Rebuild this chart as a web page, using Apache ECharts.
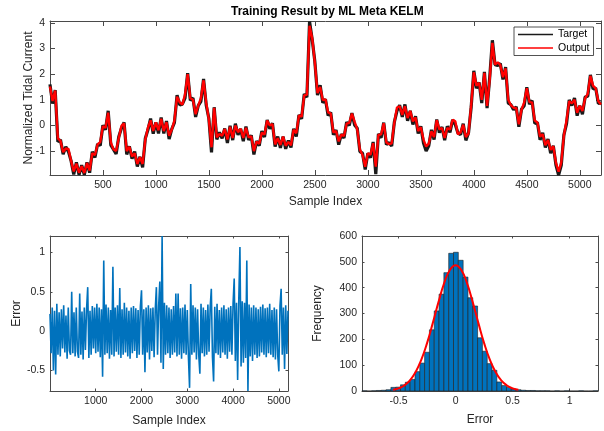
<!DOCTYPE html>
<html>
<head>
<meta charset="utf-8">
<script src="https://cdn.jsdelivr.net/npm/echarts@6/dist/echarts.min.js"></script>
<style>
  html, body { margin: 0; padding: 0; background: #fff; }
  #chart { width: 604px; height: 431px; }
</style>
</head>
<body>
<div id="chart"></div>
<script>
// Sampled every 25 samples over 1..5200
const sampleStep = 25;

const targetValues = [
  1.60, 0.85, 1.38, -0.63, -0.56, -1.12, -0.83, -1.02, -1.38, -1.91,
  -1.44, -1.92, -1.55, -1.92, -1.44, -1.84, -1.02, -1.25, -0.72, -0.78,
  0.01, -0.17, 0.57, -0.77, -0.93, -1.11, -0.44, -0.11, 0.12, -1.13,
  -0.81, -1.29, -1.02, -1.60, -1.22, -1.63, -0.51, -0.17, 0.27, -0.32,
  0.12, -0.31, 0.31, -0.31, 0.17, -0.53, -0.14, 0.11, 1.18, 0.80,
  0.83, 1.07, 2.04, 0.98, 1.07, 0.33, 0.77, 0.94, 1.81, 0.79,
  0.27, -1.05, 0.71, -0.54, -0.27, -0.50, -0.12, -0.68, -0.01, -0.57,
  0.07, -0.37, -0.13, -0.61, -0.04, -0.56, -0.38, -1.13, -0.61, -0.79,
  -0.22, -0.45, 0.21, -0.13, 0.09, -0.82, -0.43, -0.87, -0.43, -0.91,
  -0.59, -0.86, -0.13, -0.43, 0.41, 0.26, 1.23, 1.10, 4.05, 3.35,
  2.49, 1.18, 1.57, 0.88, 1.02, 0.39, 0.51, -0.36, -0.18, -0.75,
  -0.34, -0.49, 0.13, 0.00, 0.48, 0.02, -0.11, -1.02, -1.08, -1.72,
  -1.08, -1.26, -0.64, -1.90, -0.33, -0.48, 0.11, -0.74, -0.67, -0.80,
  0.13, 0.57, 0.79, 0.33, 0.82, 0.18, 0.57, 0.04, 0.36, -0.31,
  -0.03, -0.68, -1.00, -0.79, -0.17, -0.55, 0.23, -0.28, -0.06, -0.57,
  -0.03, -0.27, 0.22, 0.04, -0.29, -0.36, 0.07, -0.58, -0.29, 0.71,
  2.13, 1.45, 1.68, 0.87, 2.09, 0.68, 1.87, 3.32, 2.37, 2.34,
  2.41, 1.79, 2.27, 0.87, 0.81, 0.61, 0.73, -0.05, 0.63, 0.77,
  1.49, 0.83, 0.97, 0.08, 0.12, -0.56, -0.29, -0.86, -0.53, -1.08,
  -0.79, -1.54, -1.93, -1.55, -0.37, 0.07, 0.99, 0.78, 1.07, 0.38,
  0.77, 0.44, 1.11, 1.14, 1.97, 1.42, 1.46, 0.86, 0.88
];

const outputValues = [
  1.52, 0.95, 1.36, -0.50, -0.60, -1.04, -0.90, -0.91, -1.38, -1.79,
  -1.49, -1.84, -1.59, -1.85, -1.46, -1.76, -1.08, -1.15, -0.74, -0.65,
  -0.03, -0.09, 0.50, -0.66, -0.93, -0.99, -0.49, -0.02, 0.08, -1.00,
  -0.83, -1.21, -1.08, -1.50, -1.24, -1.50, -0.55, -0.09, 0.20, -0.21,
  0.12, -0.19, 0.26, -0.22, 0.13, -0.40, -0.16, 0.19, 1.12, 0.90,
  0.81, 1.20, 2.00, 1.06, 1.00, 0.44, 0.77, 1.06, 1.76, 0.88,
  0.23, -0.85, 0.69, -0.46, -0.33, -0.40, -0.14, -0.55, -0.05, -0.49,
  0.00, -0.26, -0.13, -0.49, -0.09, -0.47, -0.42, -1.00, -0.63, -0.71,
  -0.28, -0.35, 0.19, 0.00, 0.05, -0.74, -0.50, -0.76, -0.43, -0.79,
  -0.64, -0.77, -0.17, -0.30, 0.39, 0.34, 1.17, 1.20, 3.88, 3.40,
  2.45, 1.26, 1.50, 0.99, 1.02, 0.51, 0.46, -0.27, -0.22, -0.62,
  -0.36, -0.41, 0.07, 0.10, 0.46, 0.15, -0.15, -0.94, -1.15, -1.61,
  -1.08, -1.14, -0.69, -1.60, -0.37, -0.35, 0.09, -0.66, -0.73, -0.70,
  0.11, 0.70, 0.75, 0.41, 0.75, 0.29, 0.57, 0.16, 0.31, -0.22,
  -0.07, -0.55, -0.82, -0.71, -0.23, -0.45, 0.21, -0.15, -0.10, -0.49,
  -0.10, -0.16, 0.22, 0.16, -0.34, -0.27, 0.03, -0.45, -0.31, 0.79,
  2.07, 1.55, 1.66, 1.00, 2.05, 0.76, 1.80, 3.22, 2.37, 2.46,
  2.36, 1.88, 2.23, 1.00, 0.79, 0.69, 0.67, 0.05, 0.61, 0.90,
  1.45, 0.91, 0.90, 0.19, 0.12, -0.44, -0.34, -0.77, -0.57, -0.95,
  -0.81, -1.46, -1.80, -1.45, -0.39, 0.20, 0.95, 0.86, 1.00, 0.49,
  0.77, 0.56, 1.06, 1.23, 1.93, 1.55, 1.44, 0.94, 0.82
];

const errorValues = [
  0.22, -0.28, 0.30, -0.50, 0.26, -0.55, 0.35, -0.30, 0.24, -0.32,
  0.28, -0.22, 0.33, -0.27, 0.20, -0.35, 0.30, -0.25, -0.30, 0.50,
  -0.28, 0.24, -0.32, 0.30, -0.26, -0.34, 0.48, -0.30, 0.25, -0.36,
  0.30, -0.24, 0.28, 0.56, -0.34, 0.26, -0.30, 0.32, -0.22, 0.30,
  -0.28, 0.35, -0.26, 0.30, -0.33, 0.28, -0.58, 0.90, -0.30, 0.34,
  -0.28, 0.30, -0.35, 0.27, -0.30, 0.82, -0.32, 0.30, -0.26, 0.33,
  -0.30, 0.55, -0.34, 0.28, -0.30, 0.36, -0.27, 0.30, -0.32, 0.26,
  -0.35, 0.30, -0.28, 0.32, -0.25, 0.29, -0.34, 0.27, -0.30, 0.31,
  0.52, -0.30, 0.28, -0.52, 0.30, -0.27, 0.33, -0.36, 0.29, -0.25,
  0.30, -0.33, 0.27, 0.56, -0.30, 0.32, 0.63, -0.40, 1.21, -0.48,
  0.36, -0.30, 0.33, -0.28, 0.30, -0.34, 0.28, -0.30, 0.32, -0.27,
  0.48, -0.32, 0.48, -0.30, 0.29, -0.35, 0.30, -0.28, 0.34, -0.30,
  0.27, -0.33, -0.72, 0.60, -0.30, 0.33, -0.27, 0.30, -0.36, 0.28,
  -0.30, -0.54, 0.35, -0.28, 0.30, -0.32, 0.27, -0.30, 0.34, -0.26,
  0.30, 0.54, -0.33, -0.64, 0.31, -0.28, 0.35, -0.30, 0.27, -0.34,
  0.30, -0.27, 0.33, -0.30, 0.28, -0.35, 0.30, -0.26, 0.32, -0.30,
  0.35, 0.67, -0.38, 0.36, -0.62, 0.40, 1.07, -0.45, 0.38, -0.40,
  0.36, -0.34, 0.90, -0.76, 0.34, -0.32, 0.30, -0.38, 0.33, -0.30,
  0.30, -0.34, 0.28, -0.32, 0.31, -0.27, 0.34, -0.30, 0.29, -0.33,
  0.30, -0.28, 0.35, -0.30, 0.27, -0.33, 0.30, -0.36, 0.28, -0.30,
  -0.51, 0.32, 0.54, -0.30, 0.30, -0.48, 0.33, -0.29, 0.26
];

// Error histogram: 49 equal bins
const histBinStart = -0.82;
const histBinWidth = 0.0422;
const histCounts = [
  1, 0, 1, 2, 3, 5, 14, 15, 24, 34,
  45, 75, 108, 150, 237, 310, 375, 458, 533, 537,
  506, 441, 361, 329, 206, 154, 106, 80, 35, 21,
  14, 8, 5, 3, 2, 2, 1, 1, 1, 0,
  1, 0, 1, 0, 0, 1, 0, 0, 1
];

// Fitted normal density, scaled to counts
const fitX = [-0.55, -0.5, -0.45, -0.4, -0.35, -0.3, -0.25, -0.2, -0.15, -0.1, -0.05, 0,
              0.05, 0.1, 0.15, 0.2, 0.25, 0.3, 0.35, 0.4, 0.45, 0.5, 0.55];
const fitY = [4.6, 10.3, 21.4, 41.2, 73.5, 121.5, 185.5, 262.7, 344, 417.5, 468.6, 487,
              468.6, 417.5, 344, 262.7, 185.5, 121.5, 73.5, 41.2, 21.4, 10.3, 4.6];

// Tick values
const topXTicks = [500, 1000, 1500, 2000, 2500, 3000, 3500, 4000, 4500, 5000];
const topYTicks = [-1, 0, 1, 2, 3, 4];
const errXTicks = [1000, 2000, 3000, 4000, 5000];
const errYTicks = [-0.5, 0, 0.5, 1];
const histXTicks = [-0.5, 0, 0.5, 1];
const histYTicks = [0, 100, 200, 300, 400, 500, 600];

const sampleIndex = targetValues.map((_, i) => Math.max(1, i * sampleStep));
const pairs = (vals) => vals.map((v, i) => [sampleIndex[i], v]);
const histData = histCounts.map((c, i) => [
  histBinStart + i * histBinWidth,
  histBinStart + (i + 1) * histBinWidth,
  c
]);

const FONT = 'Liberation Sans, Arial, Helvetica, sans-serif';
const AX = '#262626';
const BOX = '#4a4a4a';
const nameStyle = { fontFamily: FONT, fontSize: 12, color: AX };

function boxAxis(gridIndex, position, min, max, ticks, tickLen, showLabels, extra) {
  const ax = {
    type: 'value',
    gridIndex: gridIndex,
    position: position,
    min: min,
    max: max,
    splitLine: { show: false },
    axisLine: { show: true, onZero: false, lineStyle: { color: BOX, width: 1 } },
    axisTick: { show: true, inside: true, length: tickLen, customValues: ticks,
                lineStyle: { color: BOX, width: 1 } },
    axisLabel: { show: showLabels, customValues: ticks, color: AX,
                 fontFamily: FONT, fontSize: 10.5, margin: 5,
                 formatter: (v) => String(v) },
    nameMoveOverlap: false
  };
  return Object.assign(ax, extra || {});
}

const histMax = histBinStart + histCounts.length * histBinWidth;

const chart = echarts.init(document.getElementById('chart'));
chart.setOption({
  animation: false,
  backgroundColor: '#ffffff',
  title: {
    text: 'Training Result by ML Meta KELM',
    left: 231, top: 6, padding: 0,
    textStyle: { fontFamily: FONT, fontSize: 12, fontWeight: 'bold', color: '#000' }
  },
  legend: {
    data: [
      { name: 'Target', itemStyle: { color: '#1a1a1a' } },
      { name: 'Output', itemStyle: { color: '#ff0000' } }
    ],
    orient: 'vertical',
    left: 514, top: 27,
    padding: [2, 4, 2, 4],
    itemGap: 2.5,
    itemWidth: 35, itemHeight: 1.5,
    icon: 'rect',
    backgroundColor: '#fff',
    borderColor: AX, borderWidth: 0.8, borderRadius: 0,
    textStyle: { fontFamily: FONT, fontSize: 10.5, color: '#000' }
  },
  grid: [
    { left: 50, top: 21, width: 551, height: 154 },
    { left: 50, top: 236, width: 238, height: 155 },
    { left: 362, top: 236, width: 236, height: 155 }
  ],
  xAxis: [
    boxAxis(0, 'bottom', 1, 5200, topXTicks, 5, true,
      { name: 'Sample Index', nameLocation: 'middle', nameGap: 21, nameTextStyle: nameStyle }),
    boxAxis(0, 'top', 1, 5200, topXTicks, 5, false),
    boxAxis(1, 'bottom', 1, 5200, errXTicks, 2.5, true,
      { name: 'Sample Index', nameLocation: 'middle', nameGap: 24, nameTextStyle: nameStyle }),
    boxAxis(1, 'top', 1, 5200, errXTicks, 2.5, false),
    boxAxis(2, 'bottom', histBinStart, histMax, histXTicks, 2.5, true,
      { name: 'Error', nameLocation: 'middle', nameGap: 22.5, nameTextStyle: nameStyle }),
    boxAxis(2, 'top', histBinStart, histMax, histXTicks, 2.5, false)
  ],
  yAxis: [
    boxAxis(0, 'left', -1.93, 4.07, topYTicks, 5, true,
      { name: 'Normalized Tidal Current', nameLocation: 'middle', nameGap: 15.5, nameTextStyle: nameStyle }),
    boxAxis(0, 'right', -1.93, 4.07, topYTicks, 5, false),
    boxAxis(1, 'left', -0.76, 1.21, errYTicks, 2.5, true,
      { name: 'Error', nameLocation: 'middle', nameGap: 27.5, nameTextStyle: nameStyle }),
    boxAxis(1, 'right', -0.76, 1.21, errYTicks, 2.5, false),
    boxAxis(2, 'left', 0, 600, histYTicks, 2.5, true,
      { name: 'Frequency', nameLocation: 'middle', nameGap: 38.5, nameTextStyle: nameStyle }),
    boxAxis(2, 'right', 0, 600, histYTicks, 2.5, false)
  ],
  series: [
    {
      name: 'Target', type: 'line', xAxisIndex: 0, yAxisIndex: 0,
      data: pairs(targetValues), symbol: 'none', showSymbol: false,
      lineStyle: { color: '#1a1a1a', width: 3.2 }, itemStyle: { color: '#1a1a1a' }, z: 3
    },
    {
      name: 'Output', type: 'line', xAxisIndex: 0, yAxisIndex: 0,
      data: pairs(outputValues), symbol: 'none', showSymbol: false,
      lineStyle: { color: '#ff0000', width: 2.4 }, itemStyle: { color: '#ff0000' }, z: 4
    },
    {
      name: 'Error', type: 'line', xAxisIndex: 2, yAxisIndex: 2,
      data: pairs(errorValues), symbol: 'none', showSymbol: false,
      lineStyle: { color: '#0072BD', width: 1.6 }, z: 3
    },
    {
      name: 'Histogram', type: 'custom', xAxisIndex: 4, yAxisIndex: 4,
      data: histData,
      encode: { x: [0, 1], y: 2 },
      renderItem: function (params, api) {
        const p0 = api.coord([api.value(0), 0]);
        const p1 = api.coord([api.value(1), api.value(2)]);
        return {
          type: 'rect',
          shape: { x: p0[0], y: p1[1], width: p1[0] - p0[0], height: p0[1] - p1[1] },
          style: { fill: '#0072BD', stroke: '#202020', lineWidth: 0.6 }
        };
      },
      z: 2
    },
    {
      name: 'Fit', type: 'line', xAxisIndex: 4, yAxisIndex: 4,
      data: fitX.map((x, i) => [x, fitY[i]]),
      smooth: true, symbol: 'none', showSymbol: false,
      lineStyle: { color: '#ff0000', width: 2 }, z: 5
    }
  ]
});
</script>
</body>
</html>
